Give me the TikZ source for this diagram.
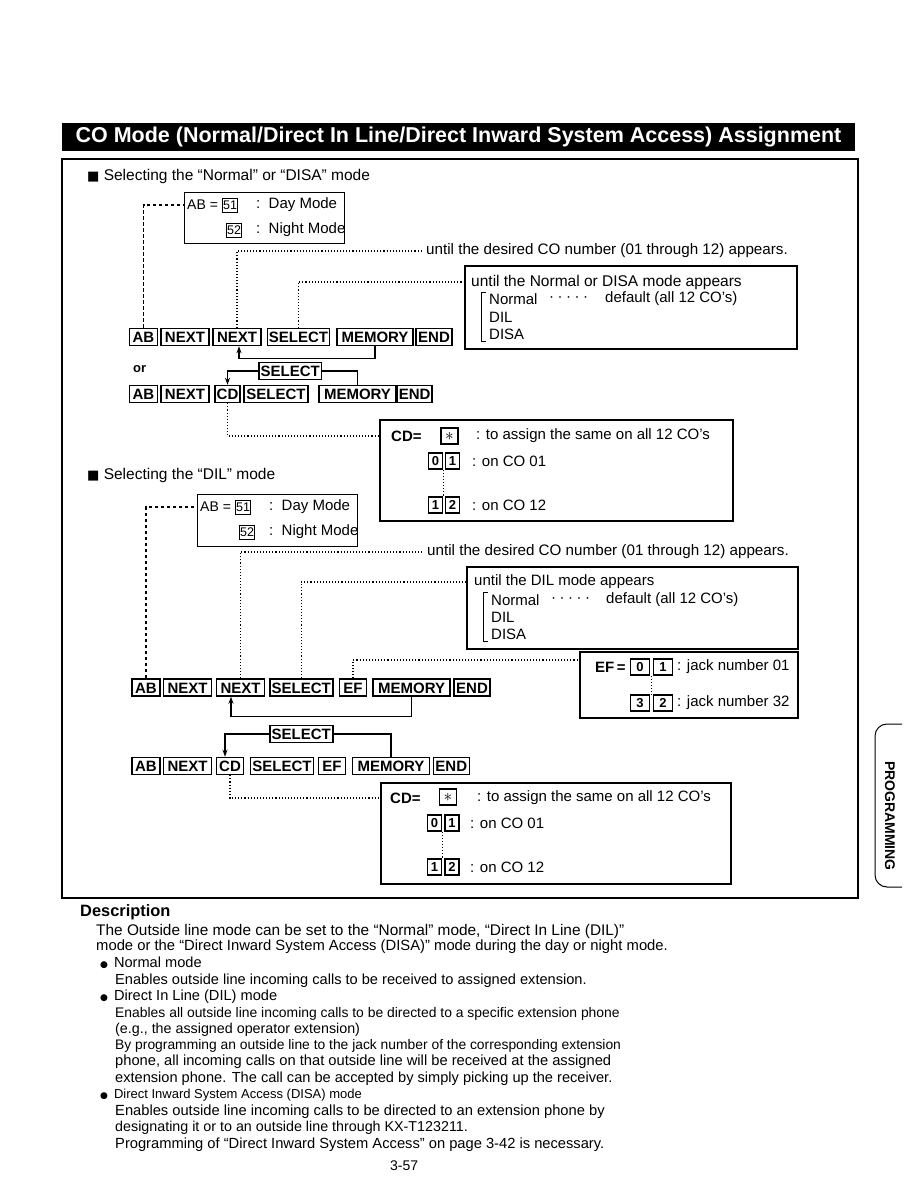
\documentclass[tikz,border=0pt]{standalone}
\usepackage{fontspec}
\setmainfont{Liberation Sans}
\newfontfamily\symfont{DejaVu Sans}
\usetikzlibrary{arrows.meta,positioning}

\newcommand\pxsize[1]{\fontsize{#1}{#1}\selectfont}

\begin{document}
\begin{tikzpicture}[x=1pt,y=-1pt,
  keybox/.style={draw, line width=1.5pt, font=\pxsize{15}\bfseries, inner xsep=1.5pt, inner ysep=0pt, minimum width=#1, minimum height=17pt, text height=11pt, text depth=0pt},
  keybox/.default=10pt,
  numkey/.style={draw, line width=0.9pt, font=\pxsize{12.5}, inner sep=0.8pt, minimum height=14pt, text height=9pt, text depth=0pt},
  digkey/.style={draw, line width=1.3pt, font=\pxsize{13}\bfseries, inner sep=0pt, minimum width=14pt, minimum height=16pt, text height=9.5pt, text depth=0pt},
  panel/.style={draw, line width=1.1pt, inner sep=0pt},
  txt/.style={anchor=west, inner sep=0pt, font=\pxsize{15}},
  desc/.style={anchor=west, inner sep=0pt, font=\pxsize{14}},
  dotline/.style={line width=1.2pt, dash pattern=on 1.1pt off 2pt},
  dashline/.style={line width=1.2pt, dash pattern=on 3.5pt off 2.5pt},
  retline/.style={line width=1.4pt, -{Stealth[length=7pt,width=5pt]}},
  bracket/.style={line width=1pt}
]
\useasboundingbox (0,0) rectangle (918,1188);

% Title banner and frame
\node[fill=black, text=white, minimum width=793pt, minimum height=28pt, inner sep=0pt, font=\pxsize{21.5}\bfseries] (title) at (458.5,137) {CO Mode (Normal/Direct In Line/Direct Inward System Access) Assignment};
\draw[line width=1.4pt] (62,159) rectangle (858,898);

% ---------- Normal / DISA ----------
\node[txt, font=\pxsize{15.5}] (sec1) at (87,176) {{\symfont\pxsize{13}■}\ Selecting the “Normal” or “DISA” mode};

\node[panel, minimum width=160pt, minimum height=51pt] (dn1) at (264.5,218) {};
\node[txt, font=\pxsize{14}] (ab1eq) at (187,205) {AB =};
\node[numkey] (k51a) at (230,205) {51};
\node[txt] (day1) at (256,205) {:\ \ Day Mode};
\node[numkey] (k52a) at (234,230) {52};
\node[txt] (night1) at (256,230) {:\ \ Night Mode};

\node[txt, inner xsep=5pt, font=\pxsize{15.2}] (co1) at (421,251) {until the desired CO number (01 through 12) appears.};

\node[panel, minimum width=332pt, minimum height=83pt] (md1) at (631,307.5) {};
\node[txt, font=\pxsize{15.5}] (md1t) at (471,282) {until the Normal or DISA mode appears};
\draw[bracket] (486,292) -| (481,341) -- (486,341);
\node[txt] (nrm1) at (489,299) {Normal};
\node[txt] (ldr1) at (549,299) {·\hspace{3.5pt}·\hspace{3.5pt}·\hspace{3.5pt}·\hspace{3.5pt}·};
\node[txt] (dfl1) at (605,299) {default (all 12 CO’s)};
\node[txt] (dil1) at (489,317) {DIL};
\node[txt] (dsa1) at (489,334) {DISA};

% first key row
\node[keybox=28pt] (ab1) at (143.5,337) {AB};
\node[keybox=48pt] (nx1a) at (185,337) {NEXT};
\node[keybox=48pt] (nx1b) at (237,337) {NEXT};
\node[keybox=61pt] (sel1) at (298.5,337) {SELECT};
\node[keybox=76pt] (mem1) at (375,337) {MEMORY};
\node[keybox=36pt] (end1) at (434,337) {END};

\draw[dashline] (ab1.north) |- (dn1.west |- ab1eq);
\draw[dotline] (nx1b.north) |- (co1.west);
\draw[dotline] (sel1.north) |- (md1.west |- md1t);
\draw[retline] (mem1.south) -- ++(0,12) -| ([xshift=2pt]nx1b.south);

\node[txt, font=\pxsize{13}\bfseries] (or1) at (133,369) {or};
\node[keybox=61pt] (msel1) at (290.3,371) {SELECT};

% second key row
\node[keybox=28pt] (ab2) at (143.5,394) {AB};
\node[keybox=48pt] (nx2) at (185,394) {NEXT};
\node[keybox=25pt] (cd2) at (227.5,394) {CD};
\node[keybox=64pt] (sel2) at (276,394) {SELECT};
\node[keybox=77pt] (mem2) at (357.5,394) {MEMORY};
\node[keybox=33pt] (end2) at (414.7,394) {END};

\draw[retline] (msel1.west) -| (cd2.north);
\draw[line width=1.4pt] (msel1.east) -| (mem2.north);

\node[panel, minimum width=353pt, minimum height=101pt] (cdb1) at (556.5,470.5) {};
\node[txt, font=\pxsize{15}\bfseries] (cdeq1) at (391,436) {CD=};
\node[digkey, minimum width=17pt, font=\pxsize{18}] (ast1) at (449.5,436) {$\ast$};
\node[txt] (all1) at (476,436) {: to assign the same on all 12 CO’s};
\node[digkey] (k01a) at (435.5,461) {0};
\node[digkey] (k01b) at (452.5,461) {1};
\node[txt] (on01a) at (472,461) {: on CO 01};
\node[digkey] (k12a) at (435.5,505) {1};
\node[digkey] (k12b) at (452.5,505) {2};
\node[txt] (on12a) at (472,505) {: on CO 12};
\draw[dotline] ([xshift=-1.5pt]k01b.south west) -- ([xshift=-1.5pt]k12b.north west);
\draw[dotline] (cd2.south) |- (cdb1.west |- cdeq1);

% ---------- DIL ----------
\node[txt, font=\pxsize{15.5}] (sec2) at (87,475) {{\symfont\pxsize{13}■}\ Selecting the “DIL” mode};

\node[panel, minimum width=160pt, minimum height=52pt] (dn2) at (277.7,520.2) {};
\node[txt, font=\pxsize{14}] (ab2eq) at (200,507) {AB =};
\node[numkey] (k51b) at (243,507) {51};
\node[txt] (day2) at (269,507) {:\ \ Day Mode};
\node[numkey] (k52b) at (247,532) {52};
\node[txt] (night2) at (269,532) {:\ \ Night Mode};

\node[txt, inner xsep=5pt, font=\pxsize{15.2}] (co2) at (422,552) {until the desired CO number (01 through 12) appears.};

\node[panel, minimum width=331pt, minimum height=82pt] (md2) at (632.5,608) {};
\node[txt] (md2t) at (474,582) {until the DIL mode appears};
\draw[bracket] (488,592) -| (483,641) -- (488,641);
\node[txt] (nrm2) at (491,600) {Normal};
\node[txt] (ldr2) at (551,600) {·\hspace{3.5pt}·\hspace{3.5pt}·\hspace{3.5pt}·\hspace{3.5pt}·};
\node[txt] (dfl2) at (606,600) {default (all 12 CO’s)};
\node[txt] (dil2) at (491,617) {DIL};
\node[txt] (dsa2) at (491,634) {DISA};

\node[panel, minimum width=218pt, minimum height=66pt] (efb) at (689,685) {};
\node[txt, font=\pxsize{15}\bfseries] (efeq) at (595,667) {EF\,=};
\node[digkey, minimum width=19pt] (ef01a) at (640,667) {0};
\node[digkey, minimum width=19pt] (ef01b) at (663,667) {1};
\node[txt] (jk01) at (677,667) {: jack number 01};
\node[digkey, minimum width=19pt] (ef32a) at (640,703) {3};
\node[digkey, minimum width=19pt] (ef32b) at (663,703) {2};
\node[txt] (jk32) at (677,703) {: jack number 32};
\draw[dotline] ([xshift=-1.5pt]ef01b.south west) -- ([xshift=-1.5pt]ef32b.north west);

% third key row
\node[keybox=28pt] (ab3) at (146,687.5) {AB};
\node[keybox=48pt] (nx3a) at (187.5,687.5) {NEXT};
\node[keybox=48pt] (nx3b) at (240.5,687.5) {NEXT};
\node[keybox=63pt] (sel3) at (301.3,687.5) {SELECT};
\node[keybox=27pt] (ef3) at (353,687.5) {EF};
\node[keybox=77pt] (mem3) at (411.7,687.5) {MEMORY};
\node[keybox=36pt] (end3) at (472,687.5) {END};

\draw[dashline] (ab3.north) |- (dn2.west |- ab2eq);
\draw[dotline] (nx3b.north) |- (co2.west);
\draw[dotline] (sel3.north) |- (md2.west |- md2t);
\draw[dotline] (ef3.north) |- ([yshift=7pt]efb.west |- efeq);
\draw[retline] (mem3.south) -- ++(0,20) -| ([xshift=-9.5pt]nx3b.south);

\node[keybox=63pt] (msel2) at (301.3,734) {SELECT};

% fourth key row
\node[keybox=28pt] (ab4) at (146,766) {AB};
\node[keybox=48pt] (nx4) at (187.5,766) {NEXT};
\node[keybox=27pt] (cd4) at (230,766) {CD};
\node[keybox=63pt] (sel4) at (282,766) {SELECT};
\node[keybox=27pt] (ef4) at (332,766) {EF};
\node[keybox=77pt] (mem4) at (391,766) {MEMORY};
\node[keybox=36pt] (end4) at (451.3,766) {END};

\draw[retline] (msel2.west) -| ([xshift=-5pt]cd4.north);
\draw[line width=1.4pt] (msel2.east) -| (mem4.north);

\node[panel, minimum width=350pt, minimum height=101pt] (cdb2) at (556,833.5) {};
\node[txt, font=\pxsize{15}\bfseries] (cdeq2) at (390,798) {CD=};
\node[digkey, minimum width=17pt, font=\pxsize{18}] (ast2) at (448,797) {$\ast$};
\node[txt] (all2) at (477,798) {: to assign the same on all 12 CO’s};
\node[digkey] (k01c) at (434.5,823) {0};
\node[digkey] (k01d) at (452,823) {1};
\node[txt] (on01b) at (470,823) {: on CO 01};
\node[digkey] (k12c) at (434.5,867) {1};
\node[digkey] (k12d) at (452,867) {2};
\node[txt] (on12b) at (470,867) {: on CO 12};
\draw[dotline] ([xshift=-1.5pt]k01d.south west) -- ([xshift=-1.5pt]k12d.north west);
\draw[dotline] (cd4.south) |- (cdb2.west |- cdeq2);

% ---------- Description ----------
\node[desc, font=\pxsize{16.4}\bfseries] (dsc) at (80,912) {Description};
\node[desc, font=\pxsize{15.4}] (d1) at (96,932) {The Outside line mode can be set to the “Normal” mode, “Direct In Line (DIL)”};
\node[desc, font=\pxsize{14.8}] (d2) at (96,947) {mode or the “Direct Inward System Access (DISA)” mode during the day or night mode.};
\node[desc, font=\pxsize{14.6}] (d3) at (100,963) {{\symfont\pxsize{9}●}\hspace{6pt}Normal mode};
\node[desc, font=\pxsize{14.6}] (d4) at (115,981) {Enables outside line incoming calls to be received to assigned extension.};
\node[desc, font=\pxsize{14.6}] (d5) at (100,997) {{\symfont\pxsize{9}●}\hspace{6pt}Direct In Line (DIL) mode};
\node[desc, font=\pxsize{13.9}] (d6) at (115,1014) {Enables all outside line incoming calls to be directed to a specific extension phone};
\node[desc, font=\pxsize{14.3}] (d7) at (115,1030) {(e.g., the assigned operator extension)};
\node[desc, font=\pxsize{13.85}] (d8) at (115,1046) {By programming an outside line to the jack number of the corresponding extension};
\node[desc, font=\pxsize{14.7}] (d9) at (115,1062) {phone, all incoming calls on that outside line will be received at the assigned};
\node[desc, font=\pxsize{14.6}] (d10) at (115,1079) {extension phone. The call can be accepted by simply picking up the receiver.};
\node[desc, font=\pxsize{13}] (d11) at (100,1095) {{\symfont\pxsize{9}●}\hspace{6pt}Direct Inward System Access (DISA) mode};
\node[desc, font=\pxsize{14.7}] (d12) at (115,1112) {Enables outside line incoming calls to be directed to an extension phone by};
\node[desc, font=\pxsize{14.3}] (d13) at (115,1128) {designating it or to an outside line through KX-T123211.};
\node[desc, font=\pxsize{14.7}] (d14) at (115,1145) {Programming of “Direct Inward System Access” on page 3-42 is necessary.};
\node[desc] (pg) at (390,1166) {3-57};

% side tab
\draw[line width=1pt, rounded corners=12pt] (902,724) -- (875,724) -- (875,887) -- (902,887);
\node[rotate=-90, font=\pxsize{14}\bfseries] (tab) at (890,816) {PROGRAMMING};

\end{tikzpicture}
\end{document}
